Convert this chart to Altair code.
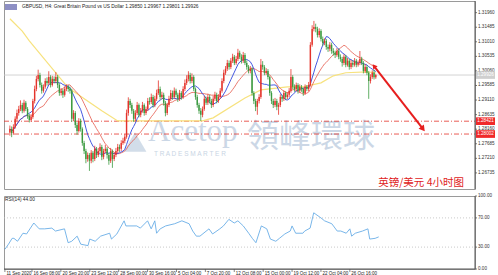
import altair as alt
import pandas as pd

# ---------------- data ----------------
first_open = 1.2805
close = [
    1.2817, 1.2804, 1.2823, 1.2850, 1.2869, 1.2882, 1.2895, 1.2876, 1.2902, 1.2882,
    1.2859, 1.2846, 1.2856, 1.2908, 1.2947, 1.2980, 1.2993, 1.2960, 1.2941, 1.2954,
    1.2973, 1.2967, 1.2986, 1.2960, 1.2980, 1.2973, 1.2986, 1.2960, 1.2934, 1.2941,
    1.2928, 1.2947, 1.2954, 1.2947, 1.2941, 1.2850, 1.2869, 1.2830, 1.2810, 1.2843,
    1.2817, 1.2771, 1.2745, 1.2719, 1.2732, 1.2713, 1.2739, 1.2719, 1.2752, 1.2732,
    1.2745, 1.2758, 1.2726, 1.2745, 1.2752, 1.2732, 1.2713, 1.2745, 1.2719, 1.2732,
    1.2745, 1.2758, 1.2752, 1.2771, 1.2778, 1.2791, 1.2869, 1.2908, 1.2895, 1.2876,
    1.2850, 1.2869, 1.2895, 1.2863, 1.2876, 1.2895, 1.2869, 1.2882, 1.2908, 1.2905,
    1.2921, 1.2895, 1.2915, 1.2934, 1.2947, 1.2921, 1.2928, 1.2902, 1.2869, 1.2895,
    1.2915, 1.2934, 1.2921, 1.2941, 1.2928, 1.2915, 1.2934, 1.2921, 1.2947, 1.2967,
    1.2980, 1.2993, 1.2973, 1.2986, 1.2947, 1.2921, 1.2895, 1.2876, 1.2863, 1.2882,
    1.2915, 1.2902, 1.2921, 1.2908, 1.2895, 1.2915, 1.2928, 1.2908, 1.2921, 1.2941,
    1.2973, 1.3000, 1.3013, 1.3032, 1.3019, 1.3039, 1.3052, 1.3032, 1.3045, 1.3065,
    1.3052, 1.3039, 1.3058, 1.3032, 1.3019, 1.3006, 1.3013, 1.2934, 1.2908, 1.2889,
    1.2908, 1.2921, 1.3026, 1.3019, 1.3000, 1.3006, 1.2986, 1.2934, 1.2908, 1.2895,
    1.2908, 1.2889, 1.2895, 1.2921, 1.2915, 1.2934, 1.2921, 1.2928, 1.2941, 1.2986,
    1.2954, 1.2947, 1.2960, 1.2941, 1.2954, 1.2947, 1.2934, 1.2954, 1.2947, 1.2960,
    1.3091, 1.3143, 1.3149, 1.3143, 1.3123, 1.3136, 1.3110, 1.3097, 1.3104, 1.3084,
    1.3078, 1.3091, 1.3071, 1.3065, 1.3058, 1.3071, 1.3052, 1.3045, 1.3032, 1.3052,
    1.3026, 1.3039, 1.3019, 1.3032, 1.3026, 1.3039, 1.3026, 1.3032, 1.3045, 1.3032,
    1.3006, 1.3019, 1.3000, 1.2973, 1.2986, 1.3000, 1.2985, 1.29926,
]
high = [
    1.2828, 1.2825, 1.2832, 1.2858, 1.2880, 1.2892, 1.2910, 1.2902, 1.2912, 1.2908,
    1.2888, 1.2866, 1.2865, 1.2915, 1.2958, 1.2990, 1.3010, 1.3000, 1.2968, 1.2962,
    1.2982, 1.2985, 1.3005, 1.2992, 1.2990, 1.2988, 1.3002, 1.2993, 1.2966, 1.2950,
    1.2948, 1.2955, 1.2962, 1.2960, 1.2955, 1.2948, 1.2878, 1.2875, 1.2838, 1.2852,
    1.2850, 1.2822, 1.2778, 1.2752, 1.2740, 1.2738, 1.2748, 1.2745, 1.2762, 1.2758,
    1.2755, 1.2770, 1.2765, 1.2752, 1.2765, 1.2758, 1.2738, 1.2755, 1.2750, 1.2740,
    1.2755, 1.2768, 1.2766, 1.2780, 1.2788, 1.2800, 1.2880, 1.2920, 1.2915, 1.2902,
    1.2882, 1.2878, 1.2905, 1.2900, 1.2885, 1.2905, 1.2900, 1.2890, 1.2918, 1.2920,
    1.2932, 1.2928, 1.2925, 1.2945, 1.2975, 1.2955, 1.2938, 1.2935, 1.2908, 1.2902,
    1.2925, 1.2944, 1.2942, 1.2952, 1.2948, 1.2935, 1.2944, 1.2940, 1.2956, 1.2978,
    1.2992, 1.3005, 1.3000, 1.2998, 1.2992, 1.2952, 1.2928, 1.2902, 1.2885, 1.2890,
    1.2925, 1.2922, 1.2930, 1.2928, 1.2915, 1.2925, 1.2938, 1.2935, 1.2930, 1.2950,
    1.2982, 1.3010, 1.3022, 1.3042, 1.3040, 1.3048, 1.3062, 1.3058, 1.3055, 1.3078,
    1.3072, 1.3060, 1.3068, 1.3064, 1.3040, 1.3025, 1.3022, 1.3018, 1.2940, 1.2915,
    1.2915, 1.2930, 1.3045, 1.3038, 1.3025, 1.3015, 1.3012, 1.2990, 1.2940, 1.2915,
    1.2918, 1.2915, 1.2902, 1.2930, 1.2928, 1.2942, 1.2940, 1.2936, 1.2950, 1.3012,
    1.2992, 1.2962, 1.2968, 1.2966, 1.2962, 1.2960, 1.2952, 1.2962, 1.2960, 1.2970,
    1.3100, 1.3155, 1.3169, 1.3160, 1.3150, 1.3145, 1.3142, 1.3118, 1.3112, 1.3110,
    1.3092, 1.3100, 1.3098, 1.3080, 1.3072, 1.3080, 1.3078, 1.3060, 1.3052, 1.3060,
    1.3058, 1.3048, 1.3045, 1.3042, 1.3040, 1.3048, 1.3045, 1.3040, 1.3071, 1.3052,
    1.3038, 1.3028, 1.3025, 1.3005, 1.2995, 1.3008, 1.3010, 1.29967,
]
low = [
    1.2795, 1.2790, 1.2798, 1.2818, 1.2843, 1.2860, 1.2875, 1.2868, 1.2870, 1.2875,
    1.2850, 1.2838, 1.2840, 1.2850, 1.2900, 1.2940, 1.2972, 1.2952, 1.2932, 1.2935,
    1.2948, 1.2958, 1.2960, 1.2952, 1.2955, 1.2965, 1.2966, 1.2950, 1.2925, 1.2926,
    1.2918, 1.2922, 1.2940, 1.2938, 1.2932, 1.2840, 1.2842, 1.2820, 1.2798, 1.2805,
    1.2808, 1.2762, 1.2735, 1.2705, 1.2710, 1.2680, 1.2705, 1.2708, 1.2712, 1.2722,
    1.2725, 1.2738, 1.2715, 1.2718, 1.2738, 1.2720, 1.2700, 1.2706, 1.2690, 1.2712,
    1.2725, 1.2738, 1.2742, 1.2745, 1.2765, 1.2770, 1.2785, 1.2860, 1.2885, 1.2866,
    1.2840, 1.2842, 1.2862, 1.2855, 1.2855, 1.2870, 1.2860, 1.2862, 1.2875, 1.2896,
    1.2898, 1.2886, 1.2888, 1.2908, 1.2928, 1.2912, 1.2914, 1.2893, 1.2858, 1.2862,
    1.2888, 1.2908, 1.2912, 1.2914, 1.2920, 1.2905, 1.2908, 1.2912, 1.2915, 1.2940,
    1.2960, 1.2972, 1.2965, 1.2966, 1.2940, 1.2912, 1.2886, 1.2866, 1.2843, 1.2855,
    1.2876, 1.2895, 1.2895, 1.2900, 1.2885, 1.2888, 1.2908, 1.2900, 1.2902, 1.2915,
    1.2935, 1.2966, 1.2993, 1.3006, 1.3010, 1.3012, 1.3032, 1.3025, 1.3026, 1.3038,
    1.3045, 1.3030, 1.3032, 1.3025, 1.3010, 1.2998, 1.2998, 1.2925, 1.2898, 1.2875,
    1.2863, 1.2900, 1.2915, 1.3010, 1.2992, 1.2993, 1.2978, 1.2925, 1.2898, 1.2885,
    1.2888, 1.2878, 1.2863, 1.2888, 1.2905, 1.2908, 1.2912, 1.2914, 1.2920, 1.2935,
    1.2946, 1.2938, 1.2940, 1.2932, 1.2935, 1.2938, 1.2925, 1.2928, 1.2940, 1.2940,
    1.2955, 1.3085, 1.3135, 1.3132, 1.3115, 1.3115, 1.3102, 1.3088, 1.3090, 1.3075,
    1.3068, 1.3070, 1.3062, 1.3056, 1.3048, 1.3052, 1.3044, 1.3036, 1.3020, 1.3025,
    1.3018, 1.3020, 1.3010, 1.3012, 1.3018, 1.3020, 1.3018, 1.3020, 1.3025, 1.3025,
    1.2998, 1.3000, 1.2992, 1.2915, 1.2965, 1.2980, 1.2978, 1.29801,
]

# long moving average (yellow), read at sample bars
yellow_bar = [0, 7, 11, 33, 52, 61, 92, 109, 115, 133, 142, 157, 166, 176, 183, 190, 202, 207]
yellow_price = [1.3176, 1.3136, 1.3104, 1.2951, 1.2876, 1.2843, 1.2843, 1.2843, 1.2853, 1.2918,
                1.2944, 1.2954, 1.2954, 1.2967, 1.2990, 1.3000, 1.3003, 1.3000]

# RSI(14) read at sample bars
rsi_bar = [0, 2, 4, 5, 7, 10, 12, 16, 19, 22, 26, 28, 33, 35, 37, 40, 42, 46, 47, 50, 53, 58, 59,
           62, 66, 67, 73, 75, 79, 81, 83, 84, 86, 89, 94, 98, 102, 104, 106, 108, 113, 115, 119,
           121, 124, 127, 129, 132, 135, 137, 139, 142, 145, 147, 150, 152, 155, 158, 159, 161,
           165, 166, 169, 171, 175, 177, 181, 184, 186, 189, 191, 192, 194, 198, 201, 202, 205, 207]
rsi_val = [27, 34, 42, 42, 38, 49, 48, 63, 55, 55, 56, 52, 55, 36, 38, 45, 34, 32, 41, 38, 45, 49, 41,
           48, 66, 59, 59, 56, 66, 55, 66, 49, 55, 59, 62, 66, 62, 52, 45, 45, 55, 48, 55,
           59, 68, 63, 66, 59, 49, 42, 36, 59, 55, 41, 38, 42, 48, 52, 59, 49,
           49, 52, 56, 77, 70, 66, 62, 52, 52, 49, 55, 45, 49, 52, 55, 41, 42, 44]

date_bar = [0, 15, 31, 47, 63, 79, 95, 111, 127, 143, 159, 175, 191]
date_text = ["11 Sep 2020", "16 Sep 08:00", "20 Sep 20:00", "23 Sep 12:00", "28 Sep 00:00",
             "30 Sep 16:00", "5 Oct 04:00", "7 Oct 20:00", "12 Oct 08:00", "15 Oct 00:00",
             "19 Oct 12:00", "22 Oct 04:00", "26 Oct 16:00"]

price_ticks = [1.31960, 1.31485, 1.31010, 1.30535, 1.30060, 1.29585, 1.29110, 1.28635,
               1.28160, 1.27685, 1.27210, 1.26735]
rsi_ticks = [100, 70, 30, 0]
level_price = [1.28421, 1.28002]
current_price = [1.29926]
arrow_t = [206.5, 234.2]
arrow_p = [1.3022, 1.2817]

# ---------------- styling ----------------
RED = "#e4332b"
GREEN = "#3b9a40"
W, H_MAIN, H_RSI = 471, 188, 73
FONT = "Liberation Sans Narrow, Liberation Sans, Arial"
AX = "#555555"

xscale = alt.Scale(domain=[0, 260.8], nice=False, zero=False)
yscale = alt.Scale(domain=[1.2621, 1.3234], nice=False, zero=False)
X = alt.X("t:Q", scale=xscale, axis=None)


def Yp(field):
    return alt.Y(field, scale=yscale, axis=None, title=None)


opens = [first_open] + close[:-1]
bars = pd.DataFrame({"bar": list(range(len(close))), "open": opens, "high": high,
                     "low": low, "close": close})
base = alt.Chart(bars).transform_calculate(
    t="datum.bar + 0.5", dir="datum.close > datum.open ? 'up' : 'down'")
col = alt.Color("dir:N", scale=alt.Scale(domain=["up", "down"], range=[RED, GREEN]), legend=None)

wicks = base.mark_rule(strokeWidth=0.8).encode(x=X, y=Yp("low:Q"), y2="high:Q", color=col)
bodies = base.mark_bar(width=1.4).encode(x=X, y=Yp("open:Q"), y2="close:Q", color=col)

ma_fast = base.transform_window(ma="mean(close)", frame=[-9, 0], sort=[{"field": "bar"}]).mark_line(
    color="#2f45dd", strokeWidth=0.9).encode(x=X, y=Yp("ma:Q"))
ma_slow = base.transform_window(ma="mean(close)", frame=[-19, 0], sort=[{"field": "bar"}]).mark_line(
    color="#e4584a", strokeWidth=0.8).encode(x=X, y=Yp("ma:Q"))

ydf = pd.DataFrame({"bar": yellow_bar, "p": yellow_price})
yellow = alt.Chart(ydf).transform_calculate(t="datum.bar + 0.5").mark_line(
    color="#f7e27e", strokeWidth=1.2).encode(x=X, y=Yp("p:Q"))

cur_df = pd.DataFrame({"p": current_price})
cur_line = alt.Chart(cur_df).mark_rule(color="#c8c8c8", strokeWidth=0.8).encode(
    y=Yp("p:Q"), x=alt.value(0), x2=alt.value(W))
lev_df = pd.DataFrame({"p": level_price})
lev_lines = alt.Chart(lev_df).mark_rule(color=RED, strokeWidth=0.8, strokeDash=[5, 2, 1, 2]).encode(
    y=Yp("p:Q"), x=alt.value(0), x2=alt.value(W))

# right-hand price scale (ticks + labels)
pt_df = pd.DataFrame({"p": price_ticks})
p_ticks = alt.Chart(pt_df).mark_rule(color=AX, strokeWidth=0.8).encode(
    y=Yp("p:Q"), x=alt.value(W), x2=alt.value(W + 2))
p_labels = alt.Chart(pt_df).mark_text(font=FONT, fontSize=4.6, color="#333", align="left",
                                      baseline="middle").encode(
    y=Yp("p:Q"), x=alt.value(W + 3), text=alt.Text("p:Q", format=".5f"))
p_domain = alt.Chart(pd.DataFrame({"k": [0]})).mark_rule(color=AX, strokeWidth=1).encode(
    x=alt.value(W), y=alt.value(0), y2=alt.value(H_MAIN))


def price_tag(df, fill, text_color):
    c = alt.Chart(df).transform_calculate(hi="datum.p + 0.00125", lo="datum.p - 0.00125")
    box = c.mark_rect(color=fill).encode(
        x=alt.value(W + 1), x2=alt.value(W + 20), y=Yp("hi:Q"), y2="lo:Q")
    txt = c.mark_text(fontSize=4.6, font=FONT, color=text_color, align="center", baseline="middle").encode(
        x=alt.value(W + 10.5), y=Yp("p:Q"), text=alt.Text("p:Q", format=".5f"))
    return box + txt


lev_tags = price_tag(lev_df, "#f02a2a", "white")
cur_tag = price_tag(cur_df, "#cfcfcf", "white")

adf = pd.DataFrame({"t": arrow_t, "p": arrow_p, "o": [0, 1]})
arrow_line = alt.Chart(adf).mark_line(color="#e61e1e", strokeWidth=2).encode(
    x=X, y=Yp("p:Q"), order="o:Q")
arrow_head = alt.Chart(adf.iloc[[1]]).mark_point(
    shape="triangle-up", filled=True, color="#e61e1e", size=45, angle=142, opacity=1).encode(
    x=X, y=Yp("p:Q"))
arrow_tail = alt.Chart(adf.iloc[[0]]).mark_point(
    shape="triangle-up", filled=True, color="#e61e1e", size=30, angle=322, opacity=1).encode(
    x=X, y=Yp("p:Q"))

one = pd.DataFrame({"k": [0]})


def label(text, x, y, **kw):
    return alt.Chart(one).mark_text(**kw).encode(
        x=alt.value(x), y=alt.value(y), text=alt.value(text))


wm_color = "#c3d1e2"
wm_logo = alt.Chart(one).mark_point(shape="triangle-up", filled=True, color=wm_color,
                                   size=520, opacity=0.75).encode(x=alt.value(131), y=alt.value(141))
wm1 = label("Acetop", 144, 140, font="Liberation Serif", fontSize=31, color=wm_color,
            align="left", baseline="alphabetic", opacity=0.85)
wm2 = label("領峰環球", 243, 146, font="Noto Sans CJK TC", fontSize=32, color=wm_color,
            align="left", baseline="alphabetic", opacity=0.85)
wm3 = label("T R A D E   S M A R T E R", 150, 153, font="Liberation Sans", fontSize=6.5,
            color=wm_color, align="left", baseline="middle", opacity=0.9)
title_txt = label("GBPUSD, H4: Great Britain Pound vs US Dollar  1.29850 1.29967 1.29801 1.29926",
                  18, 6, font=FONT, fontSize=4.8, color="#222", align="left", baseline="middle")
flag = alt.Chart(one).mark_rect(color="#8d8fc4").encode(
    x=alt.value(1), x2=alt.value(13), y=alt.value(3), y2=alt.value(9))
cn_label = label("英镑/美元  4小时图", 460, 182, font="Noto Sans CJK SC", fontSize=10.5,
                 color="#e02222", align="right", baseline="middle")

main = alt.layer(
    wm_logo, wm1, wm2, wm3,
    cur_line, lev_lines, yellow, ma_slow, ma_fast, wicks, bodies,
    arrow_line, arrow_head, arrow_tail, p_domain, p_ticks, p_labels, lev_tags, cur_tag,
    title_txt, flag, cn_label,
).properties(width=W, height=H_MAIN)

# ---------------- RSI panel ----------------
rdf = pd.DataFrame({"bar": rsi_bar, "rsi": rsi_val})
ryscale = alt.Scale(domain=[0, 100], nice=False, zero=False)


def Yr(field):
    return alt.Y(field, scale=ryscale, axis=None, title=None)


rsi_line = alt.Chart(rdf).transform_calculate(t="datum.bar + 0.5").mark_line(
    color="#6aaee6", strokeWidth=0.9).encode(x=X, y=Yr("rsi:Q"))
lvl = pd.DataFrame({"v": [70, 30]})
rsi_lvls = alt.Chart(lvl).mark_rule(color="#bdbdbd", strokeWidth=0.8, strokeDash=[1, 2]).encode(
    y=Yr("v:Q"), x=alt.value(0), x2=alt.value(W))
rsi_txt = label("RSI(14) 44.00", 1, 4, font=FONT, fontSize=4.8, color="#222",
                align="left", baseline="middle")
rt_df = pd.DataFrame({"v": rsi_ticks})
r_ticks = alt.Chart(rt_df).mark_rule(color=AX, strokeWidth=0.8).encode(
    y=Yr("v:Q"), x=alt.value(W), x2=alt.value(W + 2))
r_labels = alt.Chart(rt_df).mark_text(font=FONT, fontSize=4.6, color="#333", align="left",
                                      baseline="middle").encode(
    y=Yr("v:Q"), x=alt.value(W + 3), text=alt.Text("v:Q", format=".2f"))
r_domain = alt.Chart(one).mark_rule(color=AX, strokeWidth=1).encode(
    x=alt.value(W), y=alt.value(0), y2=alt.value(H_RSI))

ddf = pd.DataFrame({"bar": date_bar, "label": date_text})
dbase = alt.Chart(ddf).transform_calculate(t="datum.bar + 0.5")
date_ticks = dbase.mark_rule(color=AX, strokeWidth=0.7).encode(
    x=X, y=alt.value(H_RSI), y2=alt.value(H_RSI + 3))
date_labels = dbase.mark_text(font=FONT, fontSize=4.5, color="#222", align="left",
                              baseline="middle", dx=1.5).encode(
    x=X, y=alt.value(H_RSI + 5), text="label:N")
x_domain = alt.Chart(one).mark_rule(color=AX, strokeWidth=1).encode(
    x=alt.value(0), x2=alt.value(W), y=alt.value(H_RSI))

rsi = alt.layer(rsi_lvls, rsi_line, rsi_txt, r_domain, r_ticks, r_labels,
                x_domain, date_ticks, date_labels).properties(width=W, height=H_RSI)

chart = alt.vconcat(main, rsi, spacing=2).properties(
    padding={"left": 2, "top": 0, "right": 0, "bottom": 0},
    background="white",
).configure_view(stroke="#9a9a9a", strokeWidth=1)

chart.save("out.html", embed_options={"renderer": "svg", "actions": False})
